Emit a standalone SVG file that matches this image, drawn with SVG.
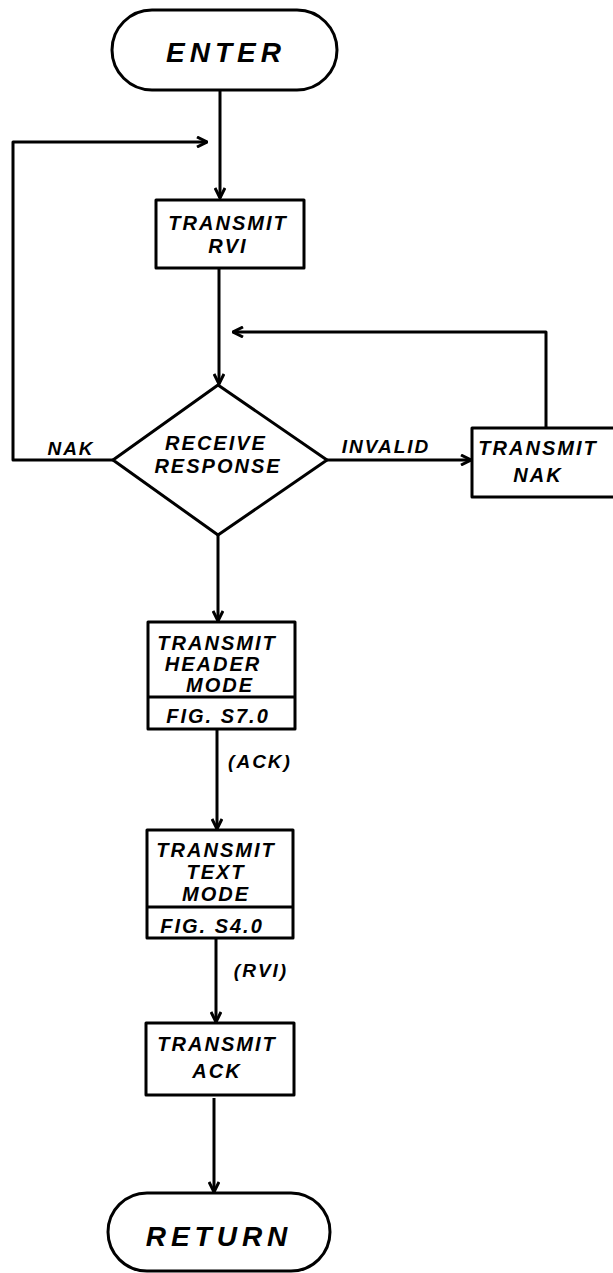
<svg xmlns="http://www.w3.org/2000/svg" width="613" height="1273" viewBox="0 0 613 1273">
<style>
.shape{fill:#fff;stroke:#000;stroke-width:3;stroke-linejoin:round}
.line{fill:none;stroke:#000;stroke-width:3;stroke-linejoin:round}
text{font-family:"Liberation Sans",Arial,sans-serif;font-style:italic;font-weight:bold;fill:#000;text-anchor:middle}
.t{font-size:20px;letter-spacing:2px}
.big{font-size:28px;letter-spacing:5px}
.lbl{font-size:19px;letter-spacing:2px}
</style>
<defs>
<marker id="arr" viewBox="0 0 12 12" refX="11" refY="6" markerWidth="12" markerHeight="12" markerUnits="userSpaceOnUse" orient="auto">
<path d="M1,1 L11,6 L1,11" fill="none" stroke="#000" stroke-width="3"/>
</marker>
</defs>
<rect width="613" height="1273" fill="#fff"/>
<g id="connectors">
<line class="line" x1="220" y1="90" x2="220" y2="198" marker-end="url(#arr)"/>
<polyline class="line" points="113,460 13,460 13,142 207,142" marker-end="url(#arr)"/>
<line class="line" x1="219" y1="268" x2="219" y2="384" marker-end="url(#arr)"/>
<polyline class="line" points="546,428 546,332 233,332" marker-end="url(#arr)"/>
<line class="line" x1="327" y1="460" x2="471" y2="460" marker-end="url(#arr)"/>
<line class="line" x1="218" y1="535" x2="218" y2="621" marker-end="url(#arr)"/>
<line class="line" x1="217" y1="729" x2="217" y2="829" marker-end="url(#arr)"/>
<line class="line" x1="216" y1="938" x2="216" y2="1022" marker-end="url(#arr)"/>
<line class="line" x1="214" y1="1098" x2="214" y2="1192" marker-end="url(#arr)"/>
<text class="lbl" x="71" y="455">NAK</text>
<text class="lbl" x="386" y="453">INVALID</text>
<text class="lbl" x="260" y="768">(ACK)</text>
<text class="lbl" x="261" y="977">(RVI)</text>
</g>
<g id="enter">
<rect class="shape" x="112" y="10" width="225" height="80" rx="40"/>
<text class="big" x="226" y="62">ENTER</text>
</g>
<g id="transmit-rvi">
<rect class="shape" x="156" y="200" width="148" height="68"/>
<text class="t" x="228" y="230">TRANSMIT</text>
<text class="t" x="228" y="253">RVI</text>
</g>
<g id="receive-response">
<polygon class="shape" points="218,385 327,460 218,535 113,460"/>
<text class="t" x="216" y="450">RECEIVE</text>
<text class="t" x="218" y="473">RESPONSE</text>
</g>
<g id="transmit-nak">
<rect class="shape" x="472" y="428" width="150" height="69"/>
<text class="t" x="538" y="455">TRANSMIT</text>
<text class="t" x="538" y="482">NAK</text>
</g>
<g id="transmit-header">
<rect class="shape" x="148" y="622" width="147" height="107"/>
<line class="line" x1="148" y1="697" x2="295" y2="697"/>
<text class="t" x="217" y="650">TRANSMIT</text>
<text class="t" x="213" y="671">HEADER</text>
<text class="t" x="220" y="692">MODE</text>
<text class="t" x="218" y="723">FIG. S7.0</text>
</g>
<g id="transmit-text">
<rect class="shape" x="147" y="830" width="146" height="108"/>
<line class="line" x1="147" y1="907" x2="293" y2="907"/>
<text class="t" x="216" y="857">TRANSMIT</text>
<text class="t" x="216" y="879">TEXT</text>
<text class="t" x="216" y="901">MODE</text>
<text class="t" x="212" y="933">FIG. S4.0</text>
</g>
<g id="transmit-ack">
<rect class="shape" x="146" y="1023" width="148" height="72"/>
<text class="t" x="217" y="1051">TRANSMIT</text>
<text class="t" x="217" y="1078">ACK</text>
</g>
<g id="return">
<rect class="shape" x="108" y="1193" width="222" height="78" rx="39"/>
<text class="big" x="219" y="1246">RETURN</text>
</g>
</svg>
